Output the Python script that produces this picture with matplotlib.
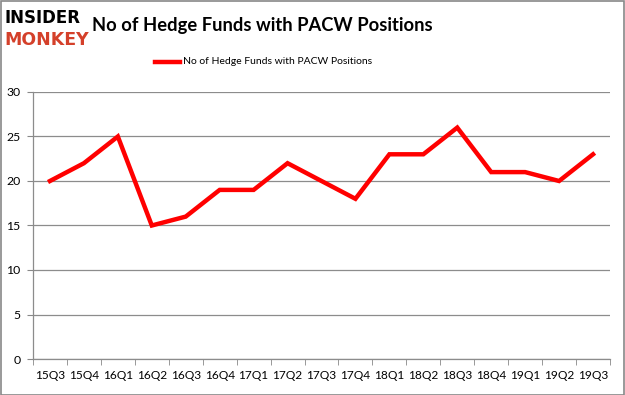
import matplotlib
matplotlib.use("Agg")
import matplotlib.pyplot as plt
from matplotlib.patches import Rectangle

quarters = ["15Q3", "15Q4", "16Q1", "16Q2", "16Q3", "16Q4", "17Q1", "17Q2", "17Q3",
            "17Q4", "18Q1", "18Q2", "18Q3", "18Q4", "19Q1", "19Q2", "19Q3"]
funds = [20, 22, 25, 15, 16, 19, 19, 22, 20, 18, 23, 23, 26, 21, 21, 20, 23]
yticks = [0, 5, 10, 15, 20, 25, 30]
title = "No of Hedge Funds with PACW Positions"

plt.rcParams["font.family"] = ["Lato", "DejaVu Sans"]

fig = plt.figure(figsize=(6.25, 3.95), dpi=100)
ax = fig.add_axes([33 / 625, 1 - 359 / 395, (610 - 33) / 625, (359 - 92) / 395])

x = list(range(len(quarters)))
ax.plot(x, funds, color="#ff0000", linewidth=3.2, solid_joinstyle="miter", zorder=3)
ax.set_xlim(-0.5, len(quarters) - 0.5)
ax.set_ylim(0, 30)
ax.set_yticks(yticks)
ax.set_yticklabels([str(v) for v in yticks], fontsize=8.8)
ax.set_xticks(x)
ax.set_xticklabels(quarters, fontsize=8.6)
ax.set_xticks([i - 0.5 for i in range(len(quarters) + 1)], minor=True)
ax.tick_params(axis="x", which="major", length=0, pad=8)
ax.tick_params(axis="x", which="minor", length=4, color="#888888", direction="out")
ax.tick_params(axis="y", length=4, color="#888888", pad=5)
ax.grid(axis="y", color="#8c8c8c", linewidth=0.9)
ax.set_axisbelow(True)
for s in ["top", "right"]:
    ax.spines[s].set_visible(False)
for s in ["left", "bottom"]:
    ax.spines[s].set_color("#8c8c8c")
    ax.spines[s].set_linewidth(0.9)

# title
fig.text(262 / 625, 1 - 25 / 395, title, ha="center", va="center", fontsize=13.2,
         fontweight="bold")
# legend
fig.add_artist(plt.Line2D([155 / 625, 180 / 625], [1 - 62 / 395, 1 - 62 / 395],
                          color="#ff0000", linewidth=3.2))
fig.text(183 / 625, 1 - 62 / 395, title, ha="left", va="center", fontsize=7.5)

# logo
fig.text(4 / 625, 1 - 18 / 395, "INSIDER", ha="left", va="center", fontsize=12,
         fontweight="heavy", color="black", family="DejaVu Sans")
fig.text(4 / 625, 1 - 40 / 395, "MONKEY", ha="left", va="center", fontsize=12.5,
         fontweight="heavy", color="#d4402a", family="DejaVu Sans")

# border
fig.add_artist(Rectangle((0.5 / 625, 0.5 / 395), 1 - 1.5 / 625, 1 - 1.5 / 395,
                         transform=fig.transFigure, fill=False, edgecolor="#888888",
                         linewidth=1.2))

fig.savefig("out.png", dpi=100)
